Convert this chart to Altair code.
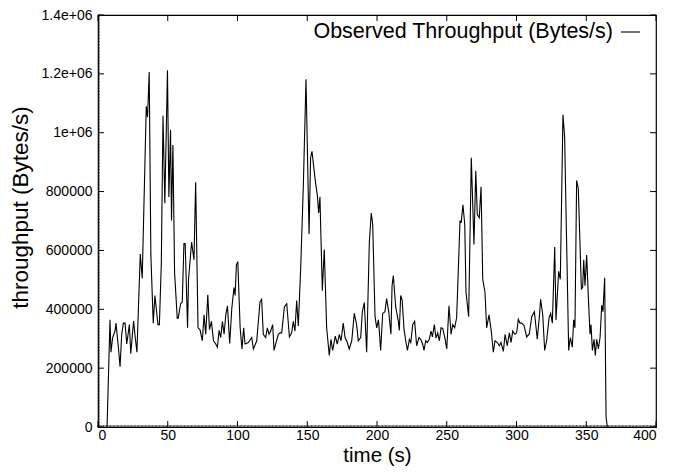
import altair as alt
import pandas as pd

# time (s) and observed throughput (Bytes/s)
time_s = [6.5, 8.6, 9.3, 10.5, 12.2, 12.9, 14.6, 15.8, 17.0, 18.2, 19.4, 20.6, 22.5, 23.5, 25.5, 26.7, 27.9,
          30.3, 31.7, 34.6, 35.5, 36.7, 37.9, 39.6, 40.8, 43.0, 44.0, 45.4, 46.6, 47.9, 49.8, 50.8, 52.0,
          52.7, 53.7, 54.9, 56.8, 57.5, 59.2, 60.4, 61.6, 62.5, 64.2, 64.9, 67.1, 68.8, 70.0, 71.7, 73.1,
          74.8, 76.0, 77.2, 78.7, 79.9, 81.3, 82.8, 84.4, 85.6, 86.8, 88.0, 89.2, 90.4, 91.6, 92.8, 94.4,
          95.9, 97.5, 98.3, 99.2, 100.2, 101.9, 103.2, 104.4, 105.4, 107.8, 110.2, 111.4, 113.8, 116.1,
          117.3, 118.5, 120.2, 121.4, 122.6, 123.8, 125.2, 126.2, 127.6, 129.3, 130.5, 131.7, 133.6, 135.3,
          137.2, 138.8, 140.0, 141.2, 142.4, 143.6, 145.3, 147.2, 149.1, 151.3, 152.4, 153.4, 155.6, 157.2,
          158.2, 159.1, 160.8, 162.2, 163.9, 165.8, 167.0, 168.2, 170.1, 171.5, 173.0, 174.2, 175.8, 177.1,
          178.7, 180.1, 181.9, 183.7, 185.4, 186.6, 188.3, 189.5, 190.9, 192.6, 194.5, 195.9, 196.9, 198.6,
          199.8, 201.0, 201.6, 202.6, 204.1, 205.7, 206.9, 208.4, 210.0, 210.8, 211.7, 213.4, 215.3, 216.0,
          217.0, 218.0, 219.4, 220.6, 221.8, 223.2, 224.2, 225.6, 227.0, 228.4, 230.1, 231.3, 232.7, 233.7,
          234.9, 236.1, 237.5, 238.7, 239.7, 241.1, 242.3, 243.5, 244.7, 245.9, 247.1, 248.7, 250.0, 251.6,
          253.1, 254.3, 255.7, 257.1, 259.5, 260.4, 261.6, 262.9, 263.8, 265.7, 267.6, 269.5, 270.8, 271.9,
          273.3, 274.6, 275.8, 277.4, 278.6, 280.3, 281.9, 283.4, 284.6, 286.3, 287.7, 288.9, 290.6, 291.8,
          293.4, 294.9, 296.1, 297.3, 298.9, 300.1, 301.3, 302.5, 303.7, 305.4, 307.3, 309.2, 310.9, 312.8,
          314.9, 316.4, 317.3, 318.8, 320.2, 321.6, 323.3, 324.5, 325.7, 327.4, 328.3, 330.2, 331.4, 333.3,
          334.5, 337.4, 338.6, 340.0, 341.0, 341.9, 343.1, 344.3, 346.5, 347.4, 348.2, 349.1, 350.3, 351.5,
          352.7, 353.4, 354.4, 355.6, 356.5, 357.5, 358.7, 359.9, 361.1, 362.0, 363.2, 364.2, 365.1]

throughput_k = [0, 364, 254, 304, 326, 353, 271, 205, 315, 353, 353, 282, 348, 249, 360, 304, 254,
                588, 505, 1090, 1053, 1206, 584, 353, 447, 348, 348, 558, 1058, 760, 1212, 782, 1010,
                702, 958, 524, 370, 370, 419, 424, 623, 623, 337, 502, 628, 568, 832, 337, 331,
                293, 381, 315, 449, 331, 359, 293, 282, 271, 328, 304, 359, 315, 381, 412, 284,
                403, 474, 447, 551, 562, 337, 265, 337, 282, 287, 304, 265, 293, 425,
                434, 315, 304, 337, 315, 326, 348, 260, 287, 315, 320, 320, 408, 419,
                306, 320, 359, 326, 430, 343, 540, 821, 1182, 656, 915, 937, 843, 788,
                727, 782, 463, 603, 337, 243, 298, 260, 309, 282, 315, 293, 353, 304,
                287, 265, 293, 386, 348, 293, 304, 392, 423, 254, 628, 727, 689, 375,
                337, 364, 331, 260, 386, 392, 436, 392, 315, 480, 515, 408, 359, 328,
                447, 432, 331, 293, 260, 298, 287, 348, 359, 276, 304, 298, 282, 260,
                293, 287, 298, 326, 306, 348, 302, 320, 293, 337, 335, 302, 265, 412,
                315, 348, 337, 372, 700, 697, 755, 689, 458, 375, 915, 620, 871, 722,
                711, 816, 502, 458, 337, 381, 326, 254, 293, 287, 276, 287, 257, 315,
                276, 320, 287, 326, 315, 320, 366, 353, 353, 345, 306, 317, 375, 392,
                298, 375, 434, 381, 260, 293, 370, 386, 353, 612, 364, 529, 502, 1061,
                986, 260, 304, 271, 364, 337, 838, 810, 469, 474, 568, 480, 584, 440,
                315, 348, 260, 298, 243, 298, 265, 304, 414, 392, 507, 34, 0]

x_ticks = [0, 50, 100, 150, 200, 250, 300, 350, 400]
y_ticks = [0, 200000, 400000, 600000, 800000, 1000000, 1200000, 1400000]
y_tick_labels = ["0", "200000", "400000", "600000", "800000", "1e+06", "1.2e+06", "1.4e+06"]
x_minor_step = 1
y_minor_step = 5000
series_name = "Observed Throughput (Bytes/s)"

W, H = 558, 412
PAD_T = 7
FONT = "Liberation Sans"
TL = 6   # inward major tick length (px)
TM = 2   # inward minor tick length (px)

df = pd.DataFrame({"t": time_s, "v": [k * 1000 for k in throughput_k]})
xt = pd.DataFrame({"x": x_ticks})
yt = pd.DataFrame({"y": y_ticks})
xm = pd.DataFrame({"x": list(range(0, 401, x_minor_step))})
ym = pd.DataFrame({"y": list(range(0, 1400001, y_minor_step))})

label_expr = " : ".join(
    f"datum.value == {v} ? '{l}'" for v, l in zip(y_ticks, y_tick_labels)
) + " : ''"

xscale = alt.Scale(domain=[0, 400], nice=False, zero=False)
yscale = alt.Scale(domain=[0, 1400000], nice=False)

line = alt.Chart(df).mark_line(color="black", strokeWidth=1.1).encode(
    x=alt.X("t:Q", scale=xscale,
            axis=alt.Axis(title="time (s)", values=x_ticks, ticks=False, domain=False, grid=False,
                          labelFont=FONT, labelFontSize=14, labelColor="black", labelPadding=1,
                          titleFont=FONT, titleFontSize=20.5, titleFontWeight="normal",
                          titleColor="black", titleY=34, titleBaseline="alphabetic")),
    y=alt.Y("v:Q", scale=yscale,
            axis=alt.Axis(title="throughput (Bytes/s)", values=y_ticks, ticks=False, domain=False,
                          grid=False, labelExpr=label_expr, labelFont=FONT, labelFontSize=14,
                          labelColor="black", labelPadding=6,
                          titleFont=FONT, titleFontSize=22.5, titleFontWeight="normal",
                          titleColor="black", titlePadding=9, titleY=192)),
)

bottom_ticks = alt.Chart(xt).mark_rule(color="black", strokeWidth=1).encode(
    x=alt.X("x:Q", scale=xscale), y=alt.value(H), y2=alt.value(H - TL))
top_ticks = alt.Chart(xt).mark_rule(color="black", strokeWidth=1).encode(
    x=alt.X("x:Q", scale=xscale), y=alt.value(0), y2=alt.value(TL))
left_ticks = alt.Chart(yt).mark_rule(color="black", strokeWidth=1).encode(
    y=alt.Y("y:Q", scale=yscale), x=alt.value(0), x2=alt.value(TL))
right_ticks = alt.Chart(yt).mark_rule(color="black", strokeWidth=1).encode(
    y=alt.Y("y:Q", scale=yscale), x=alt.value(W), x2=alt.value(W - TL))
bottom_minor = alt.Chart(xm).mark_rule(color="black", strokeWidth=0.6).encode(
    x=alt.X("x:Q", scale=xscale), y=alt.value(H), y2=alt.value(H - TM))
left_minor = alt.Chart(ym).mark_rule(color="black", strokeWidth=0.6).encode(
    y=alt.Y("y:Q", scale=yscale), x=alt.value(0), x2=alt.value(TM))

legend_df = pd.DataFrame({"name": [series_name]})
legend_text = alt.Chart(legend_df).mark_text(
    align="right", baseline="middle", font=FONT, fontSize=21.5, color="black"
).encode(text="name:N", x=alt.value(W - 43), y=alt.value(17))
legend_line = alt.Chart(legend_df).mark_rule(color="black", strokeWidth=1.1).encode(
    x=alt.value(W - 35), x2=alt.value(W - 16), y=alt.value(17))

chart = alt.layer(
    bottom_minor, left_minor, line, bottom_ticks, top_ticks, left_ticks, right_ticks,
    legend_text, legend_line
).properties(
    width=W, height=H,
    autosize=alt.AutoSizeParams(type="none"),
    padding={"left": 90, "top": PAD_T, "right": 15, "bottom": 458 - PAD_T - H},
    background="white",
).configure_view(stroke="black", strokeWidth=1.2)

chart.save("out.html", embed_options={"renderer": "svg", "actions": False})
